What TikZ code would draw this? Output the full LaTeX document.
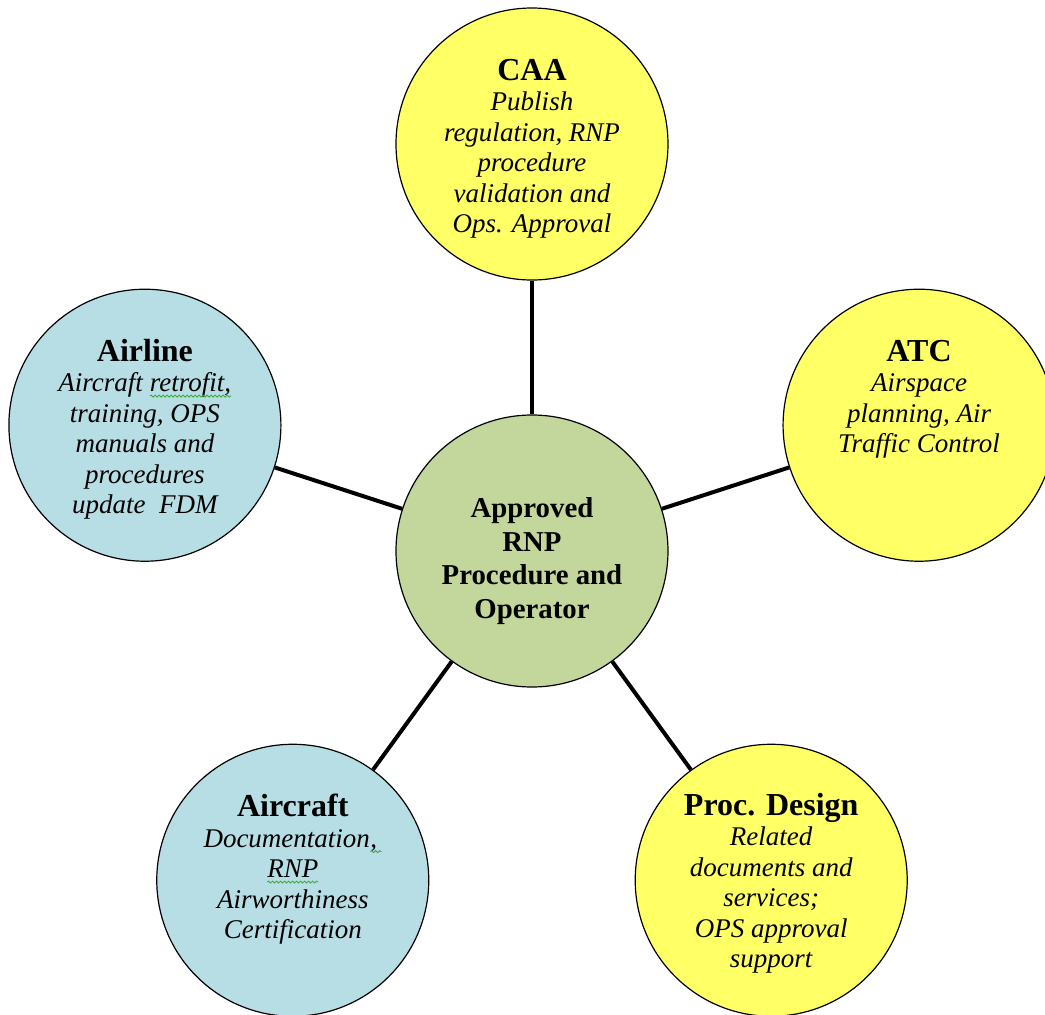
\documentclass[tikz,border=0pt]{standalone}
\usepackage{fontspec}
\setmainfont{Liberation Serif}
\usepackage{tikz}
\usetikzlibrary{positioning,calc,decorations.pathmorphing}
\definecolor{roleYellow}{RGB}{255,255,102}
\definecolor{roleBlue}{RGB}{183,222,228}
\definecolor{hubGreen}{RGB}{195,214,155}
\definecolor{checkGreen}{RGB}{60,170,60}
\newcommand\grammarwave[1]{\tikz[baseline = (w.base)]{\node[inner sep = 0pt, outer sep = 0pt] (w) {#1};
    \draw[checkGreen, line width = .4pt, decorate, decoration = {snake, amplitude = .5pt, segment length = 2pt}]
        ([yshift = -2.2pt]w.base west) -- ([yshift = -2.2pt]w.base east);}}
\newcommand\rolehead[1]{{\fontsize{16}{18}\selectfont\bfseries\upshape #1}}

\begin{document}
\begin{tikzpicture}[x = .5pt, y = .5pt,
    bubble/.style = {circle, draw, line width = .6pt, minimum size = 136pt, inner sep = 0pt},
    role/.style = {align = center, font = \fontsize{13.5}{15.25}\selectfont\itshape},
    hubtext/.style = {align = center, font = \fontsize{14.4}{16.7}\selectfont\bfseries},
    link/.style = {line width = 2pt}]
    \useasboundingbox (-532,-463) rectangle (513,551);
    % circles
    \node[bubble, fill = hubGreen] (hub) at (0,0) {};
    \node[bubble, fill = roleYellow] (caa) at (90:407) {};
    \node[bubble, fill = roleYellow] (atc) at (18:407) {};
    \node[bubble, fill = roleYellow] (proc) at (-54:407) {};
    \node[bubble, fill = roleBlue] (aircraft) at (-126:407) {};
    \node[bubble, fill = roleBlue] (airline) at (162:407) {};
    \foreach \n in {caa, atc, proc, aircraft, airline}
        \draw[link] (hub) -- (\n);
    % texts
    \node[hubtext] (hubTxt) at ([yshift = -5pt]hub.center) {Approved\\RNP\\Procedure and\\Operator};
    \node[role] (caaTxt) at ([yshift = -2.5pt]caa.center) {\rolehead{CAA}\\Publish\\regulation, RNP\\procedure\\validation and\\Ops. Approval};
    \node[role] (atcTxt) at ([yshift = 13pt]atc.center) {\rolehead{ATC}\\Airspace\\planning, Air\\Traffic Control};
    \node[role] (procTxt) at ([yshift = -1.5pt]proc.center) {\rolehead{Proc. Design}\\Related\\documents and\\services;\\OPS approval\\support};
    \node[role] (aircraftTxt) at ([yshift = 5.5pt]aircraft.center) {\rolehead{Aircraft}\\Documentation\grammarwave{,\,}\\\grammarwave{RNP}\\Airworthiness\\Certification};
    \node[role] (airlineTxt) at ([yshift = -2pt]airline.center) {\rolehead{Airline}\\Aircraft \grammarwave{retrofit,}\\training, OPS\\manuals and\\procedures\\update~ FDM};
\end{tikzpicture}
\end{document}
